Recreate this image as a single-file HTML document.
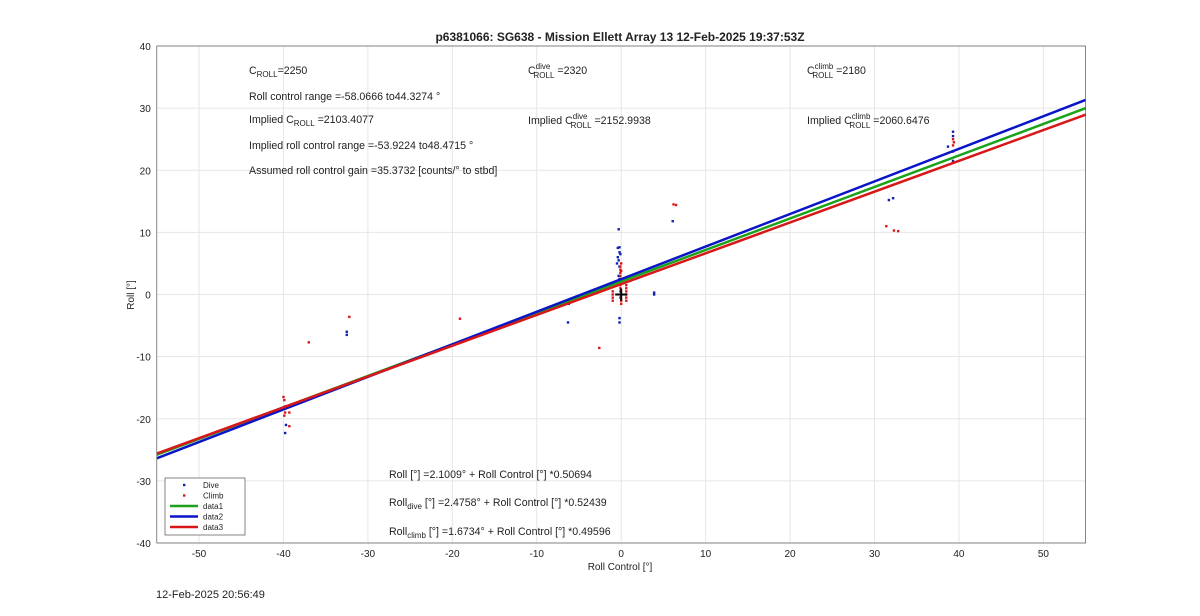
<!DOCTYPE html>
<html><head><meta charset="utf-8"><style>
body{margin:0;background:#fff;font-family:"Liberation Sans",Arial,sans-serif}
svg text{font-family:"Liberation Sans",Arial,sans-serif;fill:#222}
</style></head><body>
<svg id="c" width="1200" height="611" viewBox="0 0 1200 611"></svg>
<script>
const xTicks=[-50,-40,-30,-20,-10,0,10,20,30,50,40];
const yTicks=[-40,-30,-20,-10,0,10,20,30,40];
const diveX=[-39.8,-39.7,-39.3,-32.5,-32.5,-6.3,-6.2,-0.3,-0.4,-0.2,-0.2,-0.4,-0.3,-0.2,-0.3,-0.2,-0.2,-0.2,3.9,3.9,6.1,31.7,32.2,38.7,39.3,39.3,39.3,39.3,-0.5,-0.1];
const diveY=[-22.3,-21,-18,-6,-6.5,-4.5,-1.5,10.5,7.5,7.6,6.8,6,5.5,4.5,3,2.5,-3.8,-4.5,0.3,0,11.8,15.2,15.5,23.8,26.2,25.5,21.5,21.2,5,6.5];
const climbX=[-40,-39.9,-39.8,-39.8,-39.9,-39.3,-39.3,-37,-32.2,-19.1,-2.6,6.2,6.5,31.4,32.3,32.8,39.3,39.3,39.3,39.4,-6.5,-1,-1,-1,-1,-0.1,-0.1,-0.1,-0.1,-0.1,-0.1,-0.1,-0.1,-0.1,-0.1,0,0,0,0,0.6,0.6,0.6,0.6,0.6,0.6];
const climbY=[-16.5,-17,-18,-19,-19.5,-19,-21.2,-7.7,-3.6,-3.9,-8.6,14.5,14.4,11,10.3,10.2,25,24,23,24.5,-1.3,0.5,0,-0.5,-1,4.5,4,3.5,3,2.5,2,1.5,1,0.5,-0.5,-1,-1.5,5,3.8,1.5,1,0.5,0,-0.5,-1];
const fitNames=['data1','data2','data3'];
const fitB=[2.1009,2.4758,1.6734];
const fitM=[0.50694,0.52439,0.49596];
const fitColors=['#1aa31a','#0a14c8','#d81818'];

const NS='http://www.w3.org/2000/svg',svg=document.getElementById('c');
const X0=156.8,X1=1085.6,Y0=46,Y1=543;
const sx=v=>X0+(v+55)/110*(X1-X0), sy=v=>Y1-(v+40)/80*(Y1-Y0);
function el(t,a,p){const e=document.createElementNS(NS,t);for(const k in a)e.setAttribute(k,a[k]);(p||svg).appendChild(e);return e;}
function tx(x,y,s,o){const e=el('text',Object.assign({x:x,y:y,'font-size':10.6},o||{}));e.innerHTML=s;return e;}
el('rect',{x:X0,y:Y0,width:X1-X0,height:Y1-Y0,fill:'#fff',stroke:'none'});
xTicks.forEach(v=>{const g=el('line',{x1:sx(v),x2:sx(v),y1:Y0,y2:Y1,stroke:'#e6e6e6'});
 const t=tx(sx(v),557,v,{'text-anchor':'middle','font-size':10});});
yTicks.forEach(v=>{const g=el('line',{x1:X0,x2:X1,y1:sy(v),y2:sy(v),stroke:'#e6e6e6'});
 const t=tx(X0-6,sy(v)+4,v,{'text-anchor':'end','font-size':10});});
diveX.forEach((x,i)=>{const c=el('rect',{x:sx(x)-1.2,y:sy(diveY[i])-1.2,width:2.4,height:2.4,fill:'#1020b0'});});
climbX.forEach((x,i)=>{const c=el('rect',{x:sx(x)-1.2,y:sy(climbY[i])-1.2,width:2.4,height:2.4,fill:'#d81818'});});
fitB.forEach((b,i)=>{const l=el('line',{x1:sx(-55),y1:sy(b-55*fitM[i]),x2:sx(55),y2:sy(b+55*fitM[i]),stroke:fitColors[i],'stroke-width':2.5});});
el('path',{d:`M${sx(0)-6} ${sy(0)}h12M${sx(0)} ${sy(0)-6}v12`,stroke:'#000','stroke-width':2});
el('rect',{x:X0,y:Y0,width:X1-X0,height:Y1-Y0,fill:'none',stroke:'#555','stroke-width':0.7});
tx(620,41,'p6381066: SG638 - Mission Ellett Array 13 12-Feb-2025 19:37:53Z',{'text-anchor':'middle','font-size':12,'font-weight':'bold'});
tx(620,570,'Roll Control [°]',{'text-anchor':'middle','font-size':10});
tx(0,0,'Roll [°]',{'text-anchor':'middle','font-size':10,transform:'translate(134,295) rotate(-90)'});
tx(156,598,'12-Feb-2025 20:56:49',{'font-size':11});
const sub=(a,b)=>`<tspan font-size="8" dy="3">${a}</tspan><tspan dy="-3">${b}</tspan>`;
const sup=(p,s,r)=>`C<tspan font-size="8" dy="-5">${p}</tspan><tspan font-size="8" dx="-${p.length*4.2}" dy="9">${s}</tspan><tspan dy="-4">${r}</tspan>`;
tx(249,74,'C'+sub('ROLL','=2250'));
tx(249,100,'Roll control range =-58.0666 to44.3274 °');
tx(249,123,'Implied C'+sub('ROLL',' =2103.4077'));
tx(249,149,'Implied roll control range =-53.9224 to48.4715 °');
tx(249,174,'Assumed roll control gain =35.3732 [counts/° to stbd]');
tx(528,74,sup('dive','ROLL',' =2320'));
tx(528,124,'Implied '+sup('dive','ROLL',' =2152.9938'));
tx(807,74,sup('climb','ROLL',' =2180'));
tx(807,124,'Implied '+sup('climb','ROLL',' =2060.6476'));
tx(389,478,'Roll [°] =2.1009° + Roll Control [°] *0.50694');
tx(389,506,'Roll'+sub('dive',' [°] =2.4758° + Roll Control [°] *0.52439'));
tx(389,535,'Roll'+sub('climb',' [°] =1.6734° + Roll Control [°] *0.49596'));
const lg=el('g',{});
el('rect',{x:165,y:478,width:80,height:57,fill:'#fff',stroke:'#333','stroke-width':0.6},lg);
[['Dive','#1020b0',0],['Climb','#d81818',0],['data1',fitColors[0],1],['data2',fitColors[1],1],['data3',fitColors[2],1]].forEach((e,i)=>{
 const y=485+i*10.5;
 if(e[2])el('line',{x1:170,x2:198,y1:y,y2:y,stroke:e[1],'stroke-width':2.5},lg);else el('rect',{x:183,y:y-1.2,width:2.4,height:2.4,fill:e[1]},lg);
 const t=tx(203,y+3,e[0],{'font-size':8});lg.appendChild(t);});
</script>
</body></html>
